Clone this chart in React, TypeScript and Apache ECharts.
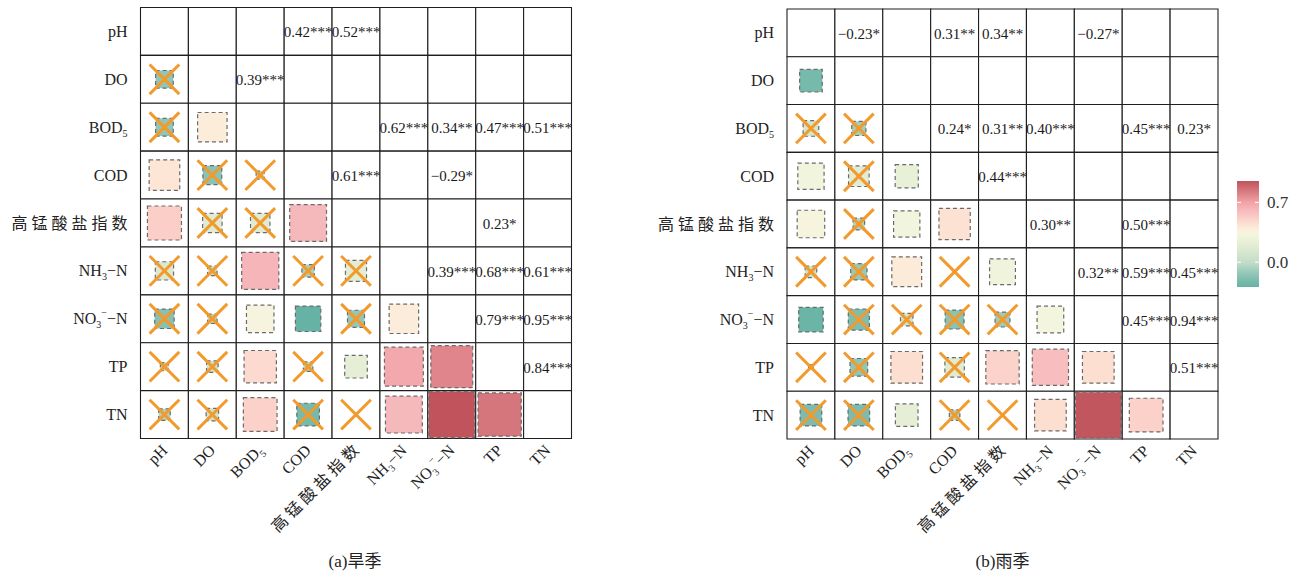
import React, { useEffect, useRef } from "react";
import * as echarts from "echarts";

// Water-quality indicators (row / column order of both matrices)
const variables = ["pH", "DO", "BOD5", "COD", "高锰酸盐指数", "NH3-N", "NO3--N", "TP", "TN"];
// Axis label text with rich sub/superscripts
const variableLabels = [
  "pH",
  "DO",
  "BOD{sub|5}",
  "COD",
  "高 锰 酸 盐 指 数",
  "NH{sub|3}−N",
  "NO{sub|3}{sup|−}−N",
  "TP",
  "TN",
];

// Lower triangle of the correlation matrix: row i holds r(i, 0..i-1)
const dryCorr = [
  [],
  [-0.14],
  [-0.14, 0.39],
  [0.42, -0.16, 0.03],
  [0.52, 0.17, 0.17, 0.61],
  [0.15, 0.04, 0.62, -0.07, 0.2],
  [-0.17, -0.04, 0.34, -0.29, -0.13, 0.39],
  [-0.03, 0.06, 0.47, -0.04, 0.23, 0.68, 0.79],
  [-0.06, 0.07, 0.51, -0.23, 0.0, 0.61, 0.95, 0.84],
];
// Significance level as number of stars (0 = not significant)
const dryStars = [
  [],
  [0],
  [0, 3],
  [3, 0, 0],
  [3, 0, 0, 3],
  [0, 0, 3, 0, 0],
  [0, 0, 2, 1, 0, 3],
  [0, 0, 3, 0, 1, 3, 3],
  [0, 0, 3, 0, 0, 3, 3, 3],
];

const wetCorr = [
  [],
  [-0.23],
  [0.11, -0.09],
  [0.31, 0.19, 0.24],
  [0.34, -0.06, 0.31, 0.44],
  [0.06, -0.12, 0.4, 0.0, 0.3],
  [-0.27, -0.2, 0.07, -0.16, -0.1, 0.32],
  [0.01, -0.14, 0.45, 0.17, 0.5, 0.59, 0.45],
  [-0.21, -0.21, 0.23, -0.05, 0.0, 0.45, 0.94, 0.51],
];
const wetStars = [
  [],
  [1],
  [0, 0],
  [2, 0, 1],
  [2, 0, 2, 3],
  [0, 0, 3, 0, 2],
  [1, 0, 0, 0, 0, 2],
  [0, 0, 3, 0, 3, 3, 3],
  [0, 0, 1, 0, 0, 3, 3, 3],
];

const panelTitles = ["(a)旱季", "(b)雨季"];
const colorbarTicks = [0.7, 0.0];

// Diverging palette (value -> colour)
const colorStops: [number, string][] = [
  [-0.29, "#66b2a4"],
  [-0.15, "#8cc4b5"],
  [0.0, "#c3ddc9"],
  [0.15, "#dce9d0"],
  [0.25, "#e9f1d8"],
  [0.33, "#f5f6df"],
  [0.4, "#fdebd9"],
  [0.5, "#fcd3ca"],
  [0.6, "#f7bbbd"],
  [0.7, "#f1a3a8"],
  [0.8, "#dd8288"],
  [0.95, "#c0535b"],
];

const SERIF = '"Liberation Serif", "Times New Roman", "Noto Sans CJK SC", serif';
const CROSS = "#f39a2c";

function hexToRgb(h: string) {
  const n = parseInt(h.slice(1), 16);
  return [(n >> 16) & 255, (n >> 8) & 255, n & 255];
}

function colorFor(v: number) {
  if (v <= colorStops[0][0]) return colorStops[0][1];
  for (let k = 1; k < colorStops.length; k++) {
    const [v1, c1] = colorStops[k];
    if (v <= v1) {
      const [v0, c0] = colorStops[k - 1];
      const t = (v - v0) / (v1 - v0);
      const a = hexToRgb(c0);
      const b = hexToRgb(c1);
      const m = a.map((x, i) => Math.round(x + (b[i] - x) * t));
      return `rgb(${m[0]},${m[1]},${m[2]})`;
    }
  }
  return colorStops[colorStops.length - 1][1];
}

function formatR(r: number, stars: number) {
  const s = r.toFixed(2).replace("-", "−");
  return s + "*".repeat(stars);
}

// Expand lower triangle into per-cell data: [col, row, r, stars, kind]
// kind: 0 diagonal, 1 lower (square), 2 upper (text)
function buildCells(corr: number[][], stars: number[][]) {
  const out: number[][] = [];
  const n = variables.length;
  for (let i = 0; i < n; i++) {
    for (let j = 0; j < n; j++) {
      if (i === j) out.push([j, i, 1, 0, 0]);
      else if (i > j) out.push([j, i, corr[i][j], stars[i][j], 1]);
      else out.push([j, i, corr[j][i], stars[j][i], 2]);
    }
  }
  return out;
}

function renderCell(params: any, api: any) {
  const xi = api.value(0);
  const yi = api.value(1);
  const r = api.value(2);
  const st = api.value(3);
  const kind = api.value(4);
  const c = api.coord([xi, yi]);
  const sz = api.size([1, 1]);
  const w = sz[0];
  const h = sz[1];
  const children: any[] = [
    {
      type: "rect",
      shape: { x: c[0] - w / 2, y: c[1] - h / 2, width: w, height: h },
      style: { fill: "#fff", stroke: "#1f1f1f", lineWidth: 1.1 },
    },
  ];
  if (kind === 1) {
    const side = Math.sqrt(Math.abs(r)) * w * 0.985;
    if (side > 0.5) {
      children.push({
        type: "rect",
        shape: { x: c[0] - side / 2, y: c[1] - side / 2, width: side, height: side },
        style: { fill: colorFor(r), stroke: "#6b6b6b", lineWidth: 1.2, lineDash: [4, 3] },
      });
    }
    if (st === 0) {
      const d = w * 0.31;
      children.push(
        {
          type: "line",
          shape: { x1: c[0] - d, y1: c[1] - d, x2: c[0] + d, y2: c[1] + d },
          style: { stroke: CROSS, lineWidth: 3 },
        },
        {
          type: "line",
          shape: { x1: c[0] - d, y1: c[1] + d, x2: c[0] + d, y2: c[1] - d },
          style: { stroke: CROSS, lineWidth: 3 },
        }
      );
    }
  } else if (kind === 2 && st > 0) {
    children.push({
      type: "text",
      x: c[0],
      y: c[1] + 1,
      style: {
        text: formatR(r, st),
        fill: "#1a1a1a",
        font: `15px ${SERIF}`,
        align: "center",
        verticalAlign: "middle",
      },
    });
  }
  return { type: "group", children };
}

const labelRich = {
  sub: { fontSize: 10, fontFamily: SERIF, color: "#222", verticalAlign: "bottom", lineHeight: 11 },
  sup: { fontSize: 10, fontFamily: SERIF, color: "#222", verticalAlign: "top", lineHeight: 11 },
};

const grids = [
  { left: 140.5, top: 7.5, width: 431, height: 431 },
  { left: 787, top: 9, width: 431, height: 430 },
];

export default function App() {
  const ref = useRef<HTMLDivElement>(null);

  useEffect(() => {
    if (!ref.current) return;
    const chart = echarts.init(ref.current, null, { renderer: "svg" });

    const allR = [...dryCorr.flat(), ...wetCorr.flat()];
    const vMin = Math.min(...allR);
    const vMax = Math.max(...allR);

    // colour bar
    const barX = 1237;
    const barY = 181;
    const barW = 22;
    const barH = 106;
    const yOf = (v: number) => barY + ((vMax - v) / (vMax - vMin)) * barH;
    const gradStops = colorStops
      .filter(([v]) => v >= vMin && v <= vMax)
      .map(([v, col]) => ({ offset: (vMax - v) / (vMax - vMin), color: col }))
      .sort((a, b) => a.offset - b.offset);
    const tickEls: any[] = [];
    colorbarTicks.forEach((t) => {
      const y = yOf(t);
      tickEls.push(
        { type: "line", shape: { x1: barX, y1: y, x2: barX + 4, y2: y }, style: { stroke: "#fff", lineWidth: 1 } },
        { type: "line", shape: { x1: barX + barW - 4, y1: y, x2: barX + barW, y2: y }, style: { stroke: "#fff", lineWidth: 1 } },
        {
          type: "text",
          x: barX + barW + 8,
          y,
          style: { text: t.toFixed(1), font: `17px ${SERIF}`, fill: "#333", align: "left", verticalAlign: "middle" },
        }
      );
    });

    const xAxes = grids.map((_, gi) => ({
      type: "category",
      gridIndex: gi,
      data: variableLabels,
      axisLine: { show: false },
      axisTick: { show: false },
      splitLine: { show: false },
      axisLabel: {
        interval: 0,
        rotate: 45,
        margin: 9,
        fontSize: 16,
        fontFamily: SERIF,
        color: "#222",
        lineHeight: 22,
        rich: labelRich,
      },
    }));
    const yAxes = grids.map((_, gi) => ({
      type: "category",
      gridIndex: gi,
      inverse: true,
      data: variableLabels,
      axisLine: { show: false },
      axisTick: { show: false },
      splitLine: { show: false },
      axisLabel: {
        interval: 0,
        margin: 13,
        fontSize: 16,
        fontFamily: SERIF,
        color: "#222",
        lineHeight: 22,
        rich: labelRich,
      },
    }));

    const option: any = {
      animation: false,
      backgroundColor: "#fff",
      grid: grids,
      xAxis: xAxes,
      yAxis: yAxes,
      series: [
        {
          type: "custom",
          name: variables.join(","),
          xAxisIndex: 0,
          yAxisIndex: 0,
          renderItem: renderCell,
          data: buildCells(dryCorr, dryStars),
        },
        {
          type: "custom",
          xAxisIndex: 1,
          yAxisIndex: 1,
          renderItem: renderCell,
          data: buildCells(wetCorr, wetStars),
        },
      ],
      graphic: [
        {
          type: "rect",
          shape: { x: barX, y: barY, width: barW, height: barH },
          style: { fill: new echarts.graphic.LinearGradient(0, 0, 0, 1, gradStops) },
        },
        ...tickEls,
        {
          type: "text",
          x: grids[0].left + grids[0].width / 2 - 1,
          y: 561,
          style: { text: panelTitles[0], font: `17px ${SERIF}`, fill: "#222", align: "center", verticalAlign: "middle" },
        },
        {
          type: "text",
          x: grids[1].left + grids[1].width / 2,
          y: 561,
          style: { text: panelTitles[1], font: `17px ${SERIF}`, fill: "#222", align: "center", verticalAlign: "middle" },
        },
      ],
    };
    chart.setOption(option);
    return () => chart.dispose();
  }, []);

  return (
    <div
      ref={ref}
      style={{ position: "fixed", left: 0, top: 0, width: 1307, height: 572, background: "#fff" }}
    />
  );
}
